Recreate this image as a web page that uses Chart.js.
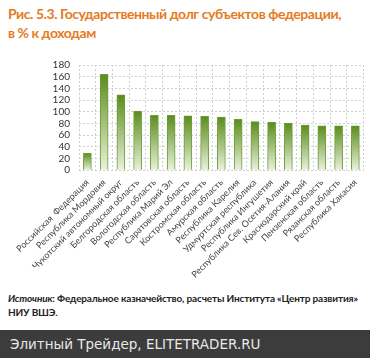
<!DOCTYPE html>
<html>
<head>
<meta charset="utf-8">
<script src="https://cdn.jsdelivr.net/npm/chart.js@4.4.1/dist/chart.umd.min.js"></script>
<style>
  body { margin: 0; width: 370px; height: 358px; background: #fff; position: relative; overflow: hidden; font-family: Lato, "Open Sans", sans-serif; }
  #title { position: absolute; left: 8px; top: 4px; white-space: nowrap; color: #e57b1e; font-weight: bold; font-size: 14px; letter-spacing: -0.45px; line-height: 19px; }
  #wrap { position: absolute; left: 0; top: 50px; width: 370px; height: 237px; }
  #source { position: absolute; left: 8px; top: 291px; white-space: nowrap; font-size: 10px; letter-spacing: -0.15px; line-height: 14px; color: #222; font-weight: bold; }
  #banner { position: absolute; left: 0; top: 330px; width: 370px; height: 28px; background: #3c3c3c; color: #e8e8e8; font-family: "DejaVu Sans", sans-serif; font-size: 13.5px; line-height: 28px; padding-left: 10px; box-sizing: border-box; }
</style>
</head>
<body>
<div id="title">Рис. 5.3. Государственный долг субъектов федерации,<br>в % к доходам</div>
<div id="wrap"><canvas id="debtChart"></canvas></div>
<div id="source"><i>Источник</i>: Федеральное казначейство, расчеты Института «Центр развития»<br>НИУ ВШЭ.</div>
<div id="banner">Элитный Трейдер, ELITETRADER.RU</div>
<script>
const regions = [
  'Российская  Федерация', 'Республика Мордовия', 'Чукотский автономный округ',
  'Белгородская область', 'Вологодская область', 'Республика Марий Эл',
  'Саратовская область', 'Костромская область', 'Амурская область',
  'Республика Карелия', 'Удмуртская республика', 'Республика Ингушетия',
  'Республика Сев. Осетия-Алания', 'Краснодарский край', 'Пензенская область',
  'Рязанская область', 'Республика Хакасия'
];
const debtToIncome = [29, 164, 129, 101, 94, 94, 93, 92, 91, 87, 83, 82, 80, 77, 76, 76, 76];
const yMax = 180;
const yStep = 20;

// gradient per bar: dark green on top, pale at the base
function barFill(c) {
  const chart = c.chart;
  if (!chart.chartArea || c.dataIndex === undefined) return '#7aa33a';
  const y = chart.scales.y;
  const top = y.getPixelForValue(debtToIncome[c.dataIndex]);
  const bottom = y.getPixelForValue(0);
  const g = chart.ctx.createLinearGradient(0, top, 0, bottom);
  g.addColorStop(0, '#5a8c1c');
  g.addColorStop(1, '#eaf2dc');
  return g;
}

const ctx = document.getElementById('debtChart').getContext('2d');
new Chart(ctx, {
  type: 'bar',
  data: {
    labels: regions,
    datasets: [{
      data: debtToIncome,
      backgroundColor: barFill,
      borderColor: '#6e9a35',
      borderWidth: 1,
      barThickness: 8
    }]
  },
  options: {
    responsive: true,
    maintainAspectRatio: false,
    animation: false,
    layout: { padding: { top: 2, right: 0, left: 0, bottom: 0 } },
    scales: {
      x: {
        grid: { color: '#d0d0d0', drawTicks: false },
        border: { display: false, dash: [2, 2] },
        ticks: {
          minRotation: 45, maxRotation: 45, autoSkip: false,
          color: '#444', padding: 7,
          font: { family: 'Lato', size: 9 }
        }
      },
      y: {
        min: 0, max: yMax,
        afterFit: s => { s.width = 79; },
        grid: { color: '#d0d0d0', drawTicks: false },
        border: { display: false, dash: [2, 2] },
        ticks: { stepSize: yStep, autoSkip: false, color: '#333', padding: 9, font: { family: 'Lato', size: 10 } }
      }
    },
    plugins: {
      legend: { display: false },
      tooltip: { enabled: false }
    }
  }
});
</script>
</body>
</html>
